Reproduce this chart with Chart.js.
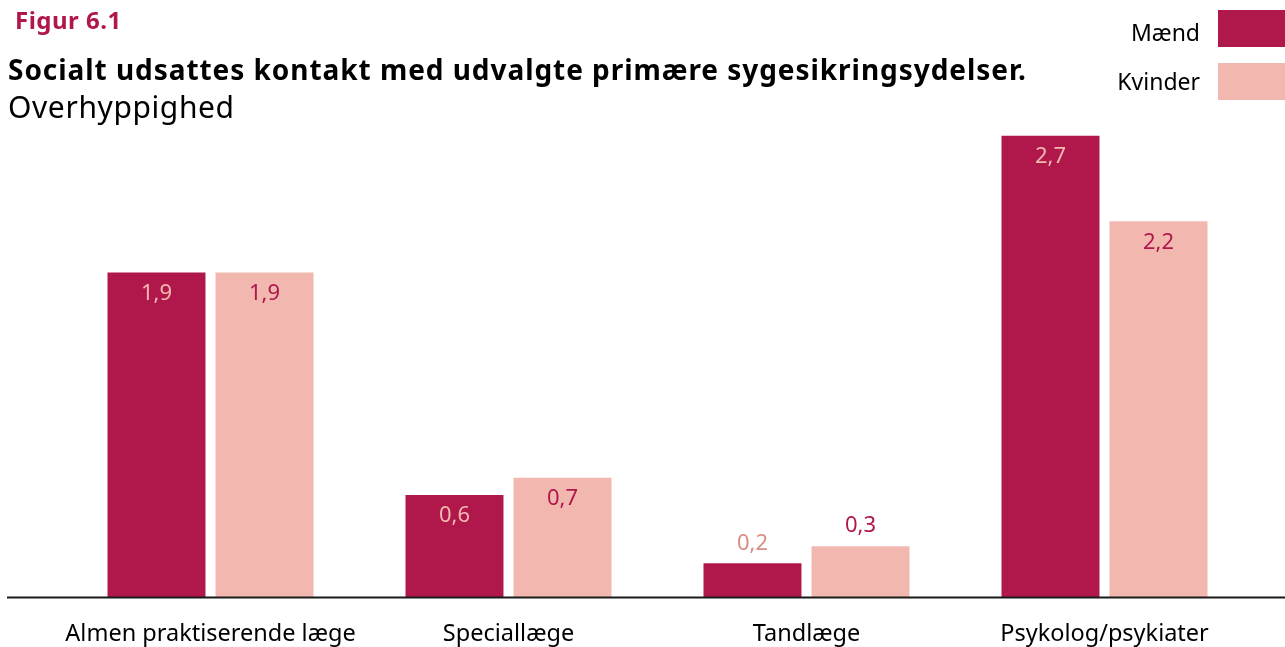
<!DOCTYPE html>
<html lang="da">
<head>
<meta charset="utf-8">
<script src="https://cdn.jsdelivr.net/npm/chart.js@4"></script>
<style>
  html, body { margin: 0; padding: 0; background: #fff; }
  body { width: 1285px; height: 647px; position: relative; overflow: hidden; font-family: "Noto Sans", sans-serif; }
  #wrap { position: absolute; left: 0; top: 0; width: 1285px; height: 647px; }
  .fig { position: absolute; left: 15px; top: 3px; font-size: 24px; font-weight: bold; color: #b0174b; letter-spacing: 0.5px; }
  .title { position: absolute; left: 8px; top: 50px; font-size: 28px; font-weight: bold; color: #000; white-space: nowrap; letter-spacing: 0.95px; }
  .sub { position: absolute; left: 8px; top: 86px; font-size: 30px; color: #000; letter-spacing: 0.6px; }
  .leg { position: absolute; right: 0; display: flex; align-items: center; font-size: 23px; color: #000; }
  .leg span.sw { display: inline-block; width: 67px; height: 37px; margin-left: 18px; }
</style>
</head>
<body>
<div id="wrap"><canvas id="chart" width="1285" height="647"></canvas></div>
<div class="fig">Figur 6.1</div>
<div class="title">Socialt udsattes kontakt med udvalgte primære sygesikringsydelser.</div>
<div class="sub">Overhyppighed</div>
<div class="leg" style="top:10px"><span style="position:relative;top:3px">Mænd</span><span class="sw" style="background:#b0174b"></span></div>
<div class="leg" style="top:63px"><span style="position:relative;top:-1px">Kvinder</span><span class="sw" style="background:#f2b8b0"></span></div>
<script>
const categories = ['Almen praktiserende læge', 'Speciallæge', 'Tandlæge', 'Psykolog/psykiater'];
const maend = [1.9, 0.6, 0.2, 2.7];
const kvinder = [1.9, 0.7, 0.3, 2.2];

const RED = '#b0174b';
const PINK = '#f2b8b0';

// labels sit inside the bar top; short bars get them above instead
const valueLabels = {
  id: 'valueLabels',
  afterDatasetsDraw(chart) {
    const ctx = chart.ctx;
    ctx.save();
    ctx.font = '22px "Noto Sans", sans-serif';
    ctx.textAlign = 'center';
    ctx.textBaseline = 'middle';
    chart.data.datasets.forEach((ds, i) => {
      chart.getDatasetMeta(i).data.forEach((bar, j) => {
        const v = ds.data[j];
        const txt = v.toFixed(1).replace('.', ',');
        if (v < 0.5) {
          ctx.fillStyle = i === 0 ? '#d98e83' : RED;
          ctx.fillText(txt, bar.x, bar.y - 20);
        } else {
          ctx.fillStyle = i === 0 ? PINK : RED;
          ctx.fillText(txt, bar.x, bar.y + 21);
        }
      });
    });
    ctx.restore();
  }
};

// baseline runs the full width of the figure
const baseline = {
  id: 'baseline',
  afterDatasetsDraw(chart) {
    const y = chart.scales.y.getPixelForValue(0);
    const ctx = chart.ctx;
    ctx.save();
    ctx.strokeStyle = '#1a1a1a';
    ctx.lineWidth = 2;
    ctx.beginPath();
    ctx.moveTo(7, y);
    ctx.lineTo(1285, y);
    ctx.stroke();
    ctx.restore();
  }
};

new Chart(document.getElementById('chart'), {
  type: 'bar',
  data: {
    labels: categories,
    datasets: [
      { label: 'Mænd', data: maend, backgroundColor: RED },
      { label: 'Kvinder', data: kvinder, backgroundColor: PINK }
    ]
  },
  options: {
    responsive: false,
    animation: false,
    layout: { padding: { left: 61.5, right: 31.5, top: 84.5, bottom: 0 } },
    datasets: { bar: { categoryPercentage: 0.725, barPercentage: 0.907 } },
    plugins: { legend: { display: false }, tooltip: { enabled: false } },
    scales: {
      x: {
        grid: { display: false, drawTicks: false },
        border: { display: false },
        ticks: {
          color: '#000', padding: 23, maxRotation: 0, autoSkip: false,
          font: { family: '"Noto Sans", sans-serif', size: 23.5, lineHeight: 1.2 }
        },
        afterFit(scale) { scale.height = 49.5; }
      },
      y: { display: false, min: 0, max: 3 }
    }
  },
  plugins: [valueLabels, baseline]
});
</script>
</body>
</html>
